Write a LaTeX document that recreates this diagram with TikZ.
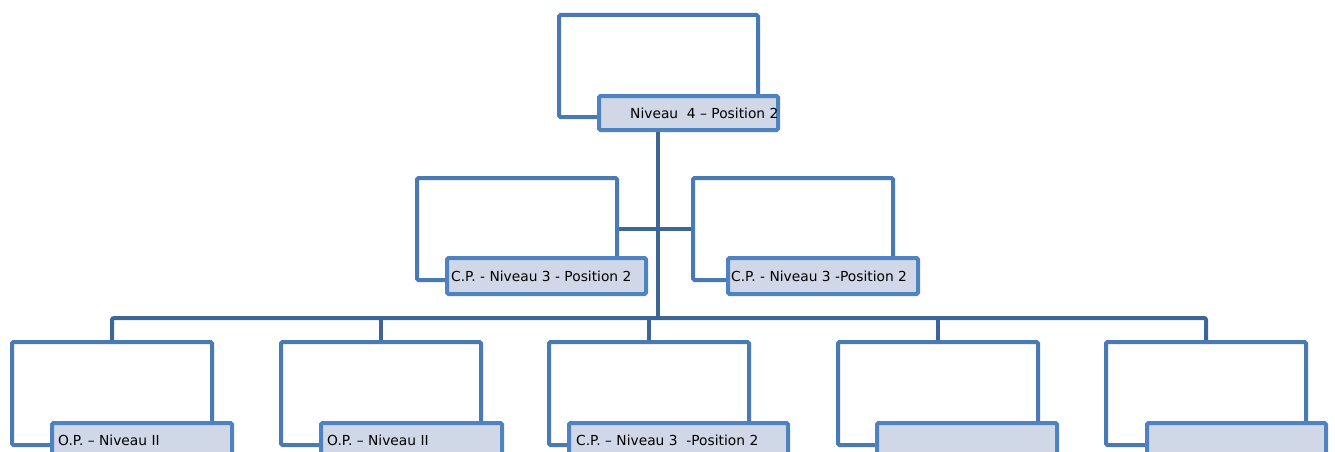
\documentclass[tikz,border=0pt]{standalone}
\usepackage{fontspec}
\setmainfont{DejaVu Sans}
\definecolor{boxline}{HTML}{4A7AB4}
\definecolor{labline}{HTML}{4F82C0}
\definecolor{labfill}{HTML}{D0D8E8}
\definecolor{conn}{HTML}{3D6695}
\tikzset{
  bigbox/.style={draw=boxline, line width=4pt, fill=white, rounded corners=1.5pt, inner sep=0pt, minimum width=200pt, minimum height=103pt},
  labbox/.style={draw=labline, line width=4pt, fill=labfill, rounded corners=1.5pt, inner sep=0pt, minimum height=36pt},
  conline/.style={draw=conn, line width=4pt},
  lab/.style={anchor=west, inner sep=0pt, font=\fontsize{13.8}{16}\selectfont, text=black}
}
\begin{document}
\begin{tikzpicture}[x=1pt,y=-1pt]
\useasboundingbox (0,0) rectangle (1335,452);
\clip (0,0) rectangle (1335,452);
% boxes
\node[bigbox, minimum width=199pt, minimum height=102pt] (T) at (658.5,66) {};
\node[bigbox, minimum height=102pt] (La) at (517,229) {};
\node[bigbox, minimum height=102pt] (Lb) at (793,229) {};
\node[bigbox] (B1) at (112,393.5) {};
\node[bigbox] (B2) at (381,393.5) {};
\node[bigbox] (B3) at (649,393.5) {};
\node[bigbox] (B4) at (938,393.5) {};
\node[bigbox] (B5) at (1206,393.5) {};
% labels
\node[labbox, minimum width=179pt, minimum height=34pt] (TL) at (688.5,113) {};
\node[labbox, minimum width=199pt] (LaL) at (546.5,276) {};
\node[labbox, minimum width=190pt] (LbL) at (823,276) {};
\node[labbox, minimum width=180pt] (B1L) at (142,441) {};
\node[labbox, minimum width=181pt] (B2L) at (411.5,441) {};
\node[labbox, minimum width=219pt] (B3L) at (678.5,441) {};
\node[labbox, minimum width=180pt] (B4L) at (967,441) {};
\node[labbox, minimum width=179pt] (B5L) at (1236.5,441) {};
% connectors
\coordinate (bar) at (658,318);
\draw[conline] (TL.south -| bar) -- (bar);
\draw[conline] (La.east) -- (Lb.west);
\draw[conline, rounded corners=2pt] (B1.north) -- (B1.north |- bar) -- (B5.north |- bar) -- (B5.north);
\draw[conline] (B2.north) -- (B2.north |- bar);
\draw[conline] (B3.north) -- (B3.north |- bar);
\draw[conline] (B4.north) -- (B4.north |- bar);
% texts
\node[lab] (t0) at (630,113) {Niveau\ \ 4 – Position 2};
\node[lab] (t1) at (451,276) {C.P. - Niveau 3 - Position 2};
\node[lab] (t2) at (731,276) {C.P. - Niveau 3 -Position 2};
\node[lab] (t3) at (58,440) {O.P. – Niveau II};
\node[lab] (t4) at (327,440) {O.P. – Niveau II};
\node[lab] (t5) at (576,440) {C.P. – Niveau 3\ \ -Position 2};
\end{tikzpicture}
\end{document}
